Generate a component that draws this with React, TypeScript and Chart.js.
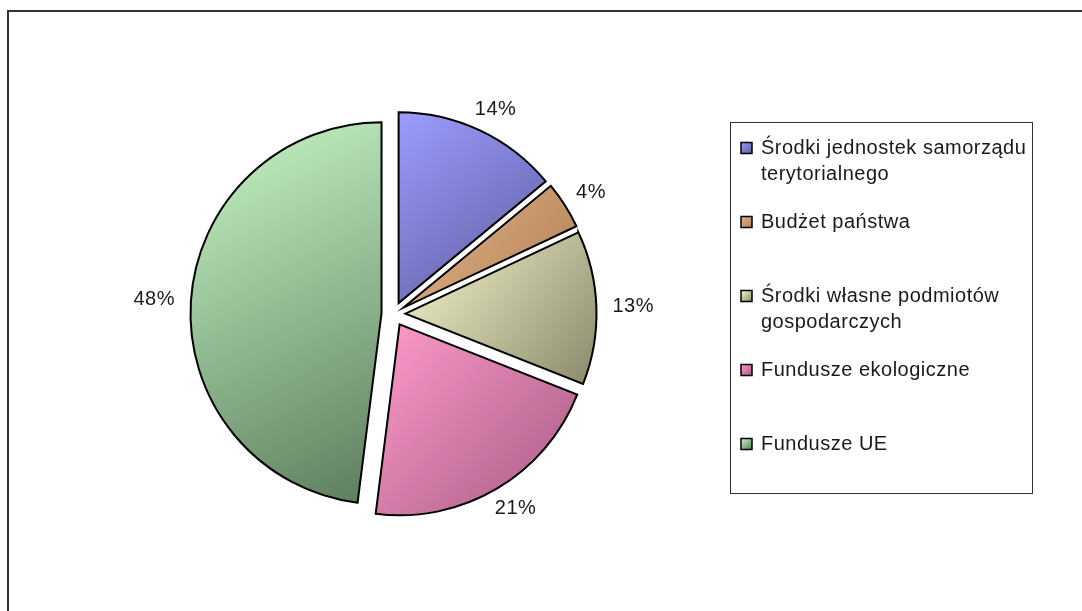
import React, { useEffect, useRef } from "react";
import { Chart, registerables } from "chart.js";

Chart.register(...registerables);

// ---- data ----
const categories: string[][] = [
  ["Środki jednostek samorządu", "terytorialnego"],
  ["Budżet państwa"],
  ["Środki własne podmiotów", "gospodarczych"],
  ["Fundusze ekologiczne"],
  ["Fundusze UE"],
];
const shares: number[] = [14, 4, 13, 21, 48];
const lightColors: string[] = ["#9C9CFF", "#E2B48C", "#F8F8CE", "#FF9ACB", "#C8F8C8"];
const darkColors: string[] = ["#5C5C9C", "#B48254", "#8A8A6C", "#A65C84", "#5C7C5C"];

// ---- style constants ----
const RADIUS = 191;
const EXPLODE = 12;
const FONT = '20px "Liberation Sans", Arial, sans-serif';
const TEXT_COLOR = "#1a1a1a";

const total = shares.reduce((a, b) => a + b, 0);

function sliceAngles(i: number) {
  let cum = 0;
  for (let j = 0; j < i; j++) cum += shares[j];
  const a0 = -Math.PI / 2 + (cum / total) * Math.PI * 2;
  const a1 = a0 + (shares[i] / total) * Math.PI * 2;
  return [a0, a1];
}

function sliceGradient(ctx: any) {
  const chart = ctx.chart;
  const i = ctx.dataIndex;
  const area = chart.chartArea;
  if (!area) return lightColors[i];
  const [a0, a1] = sliceAngles(i);
  const mid = (a0 + a1) / 2;
  const cx = (area.left + area.right) / 2 + Math.cos(mid) * EXPLODE;
  const cy = (area.top + area.bottom) / 2 + Math.sin(mid) * EXPLODE;
  let minX = cx, maxX = cx, minY = cy, maxY = cy;
  for (let k = 0; k <= 48; k++) {
    const a = a0 + ((a1 - a0) * k) / 48;
    const x = cx + RADIUS * Math.cos(a);
    const y = cy + RADIUS * Math.sin(a);
    minX = Math.min(minX, x); maxX = Math.max(maxX, x);
    minY = Math.min(minY, y); maxY = Math.max(maxY, y);
  }
  const g = chart.ctx.createLinearGradient(minX, minY, maxX, maxY);
  g.addColorStop(0, lightColors[i]);
  g.addColorStop(1, darkColors[i]);
  return g;
}

// moves every slice EXPLODE px outwards along its bisector
const explodePlugin = {
  id: "explode",
  afterDatasetsUpdate(chart: any) {
    const meta = chart.getDatasetMeta(0);
    meta.data.forEach((arc: any) => {
      const mid = (arc.startAngle + arc.endAngle) / 2;
      arc.x += Math.cos(mid) * EXPLODE;
      arc.y += Math.sin(mid) * EXPLODE;
    });
  },
};

const framePlugin = {
  id: "frame",
  beforeDraw(chart: any) {
    const c = chart.ctx;
    c.save();
    c.fillStyle = "#ffffff";
    c.fillRect(0, 0, chart.width, chart.height);
    c.strokeStyle = "#333333";
    c.lineWidth = 2;
    c.strokeRect(8, 11, chart.width + 100, chart.height + 100);
    c.restore();
  },
};

const labelPlugin = {
  id: "pctLabels",
  afterDatasetsDraw(chart: any) {
    const meta = chart.getDatasetMeta(0);
    const c = chart.ctx;
    c.save();
    c.font = FONT;
    (c as any).letterSpacing = "0.5px";
    c.fillStyle = TEXT_COLOR;
    c.textAlign = "center";
    c.textBaseline = "middle";
    meta.data.forEach((arc: any, i: number) => {
      const mid = (arc.startAngle + arc.endAngle) / 2;
      const dx = Math.cos(mid), dy = Math.sin(mid);
      const txt = Math.round((shares[i] / total) * 100) + "%";
      const w = c.measureText(txt).width;
      const h = 14;
      const d = arc.outerRadius + 16;
      const x = arc.x + dx * d + (dx * w) / 2;
      const y = arc.y + dy * d + (dy * h) / 2;
      c.fillText(txt, x, y);
    });
    c.restore();
  },
};

const legendPlugin = {
  id: "boxLegend",
  afterDraw(chart: any) {
    const c = chart.ctx;
    const boxL = 730, boxT = 122, boxR = 1032, boxB = 493;
    c.save();
    c.strokeStyle = "#333333";
    c.lineWidth = 1;
    c.strokeRect(boxL + 0.5, boxT + 0.5, boxR - boxL, boxB - boxT);
    c.font = FONT;
    (c as any).letterSpacing = "0.5px";
    c.textAlign = "left";
    c.textBaseline = "middle";
    categories.forEach((lines, i) => {
      const y0 = 148 + i * 74;
      const mx = 741, ms = 11;
      const g = c.createLinearGradient(mx, y0 - ms / 2, mx + ms, y0 + ms / 2);
      g.addColorStop(0, lightColors[i]);
      g.addColorStop(1, darkColors[i]);
      c.fillStyle = g;
      c.fillRect(mx, y0 - ms / 2, ms, ms);
      c.strokeStyle = "#000000";
      c.lineWidth = 1.5;
      c.strokeRect(mx, y0 - ms / 2, ms, ms);
      c.fillStyle = TEXT_COLOR;
      lines.forEach((ln, k) => {
        c.fillText(ln, 761, y0 + k * 26);
      });
    });
    c.restore();
  },
};

export default function App() {
  const ref = useRef<HTMLCanvasElement | null>(null);
  useEffect(() => {
    if (!ref.current) return;
    const chart = new Chart(ref.current, {
      type: "pie",
      data: {
        labels: categories.map((l) => l.join(" ")),
        datasets: [
          {
            data: shares,
            backgroundColor: sliceGradient as any,
            borderColor: "#000000",
            borderWidth: 2,
            borderJoinStyle: "miter",
            radius: RADIUS,
          } as any,
        ],
      },
      options: {
        responsive: false,
        animation: false,
        devicePixelRatio: 1,
        layout: { padding: { left: 100, right: 395, top: 40, bottom: 23 } },
        plugins: {
          legend: { display: false },
          tooltip: { enabled: false },
        },
      },
      plugins: [explodePlugin, framePlugin, labelPlugin, legendPlugin],
    });
    return () => chart.destroy();
  }, []);
  return (
    <div style={{ position: "absolute", left: 0, top: 0, width: 1082, height: 611 }}>
      <canvas ref={ref} width={1082} height={611} style={{ display: "block" }} />
    </div>
  );
}
